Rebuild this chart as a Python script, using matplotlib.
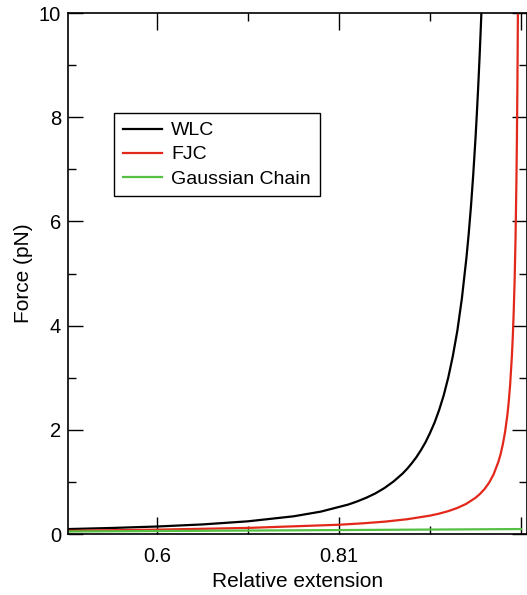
import matplotlib.pyplot as plt

plt.rcParams['font.family'] = ['Liberation Sans', 'DejaVu Sans']

# values
wlc_x = [0.50, 0.55, 0.60, 0.65, 0.70, 0.75, 0.78, 0.81, 0.82, 0.83, 0.84, 0.85,
         0.86, 0.87, 0.875, 0.88, 0.885, 0.89, 0.895, 0.90, 0.905, 0.91, 0.915,
         0.92, 0.925, 0.93, 0.935, 0.94, 0.9425, 0.945, 0.9475, 0.95, 0.9515,
         0.953, 0.9545, 0.956, 0.957]
wlc_f = [0.094, 0.116, 0.144, 0.184, 0.244, 0.34, 0.43, 0.565, 0.626, 0.697, 0.78, 0.884,
         1.01, 1.163, 1.255, 1.36, 1.475, 1.61, 1.76, 1.94, 2.14, 2.38, 2.66,
         3.0, 3.41, 3.9, 4.52, 5.3, 5.76, 6.29, 6.9, 7.6, 8.08,
         8.6, 9.17, 9.8, 10.26]

fjc_x = [0.50, 0.60, 0.70, 0.80, 0.825, 0.85, 0.875, 0.90, 0.91, 0.92, 0.93, 0.94,
         0.95, 0.955, 0.96, 0.965, 0.97, 0.975, 0.9775, 0.98, 0.9825, 0.985, 0.9865,
         0.988, 0.990, 0.991, 0.992, 0.993, 0.994, 0.995, 0.9955, 0.996, 0.9963, 0.9966]
fjc_f = [0.061, 0.084, 0.117, 0.178, 0.204, 0.237, 0.284, 0.353, 0.391, 0.439, 0.50, 0.581,
         0.695, 0.771, 0.865, 0.987, 1.15, 1.38, 1.527, 1.72, 1.96, 2.28, 2.535,
         2.85, 3.42, 3.79, 4.27, 4.87, 5.68, 6.82, 7.57, 8.52, 9.2, 10.02]

gauss_x = [0.50, 0.75, 1.00]
gauss_f = [0.048, 0.071, 0.095]

x_ticks = [0.6, 0.8, 1.0]
x_tick_labels = ['0.6', '0.81', '']
y_ticks = [0, 2, 4, 6, 8, 10]

fig = plt.figure(figsize=(5.27, 5.95), dpi=100)
ax = fig.add_axes([0.129, 0.1025, 0.871, 0.8755])

ax.plot(wlc_x, wlc_f, color='black', lw=1.6, label='WLC')
ax.plot(fjc_x, fjc_f, color='#e3281b', lw=1.6, label='FJC')
ax.plot(gauss_x, gauss_f, color='#55c043', lw=1.6, label='Gaussian Chain')

ax.set_xlim(0.502, 1.0066)
ax.set_ylim(0, 10)
ax.set_xticks(x_ticks)
ax.set_xticklabels(x_tick_labels)
ax.set_xticks([0.7, 0.9], minor=True)
ax.set_yticks(y_ticks)
ax.set_yticks([1, 3, 5, 7, 9], minor=True)

ax.tick_params(which='both', direction='in', top=True, right=True, width=1, labelsize=14.5)
ax.tick_params(axis='x', which='major', length=12, pad=9)
ax.tick_params(axis='y', which='major', length=11, pad=5)
ax.tick_params(which='minor', length=6)
for s in ax.spines.values():
    s.set_linewidth(1.2)

ax.set_xlabel('Relative extension', fontsize=15, labelpad=5)
ax.set_ylabel('Force (pN)', fontsize=15, labelpad=4.5)

leg = ax.legend(loc='upper left', bbox_to_anchor=(0.100, 0.808), fontsize=14,
                fancybox=False, frameon=True, edgecolor='black', framealpha=1,
                borderaxespad=0, handlelength=2.0, handletextpad=0.5,
                labelspacing=0.33, borderpad=0.45)
leg.get_frame().set_linewidth(1)

fig.savefig('out.png', dpi=100)
